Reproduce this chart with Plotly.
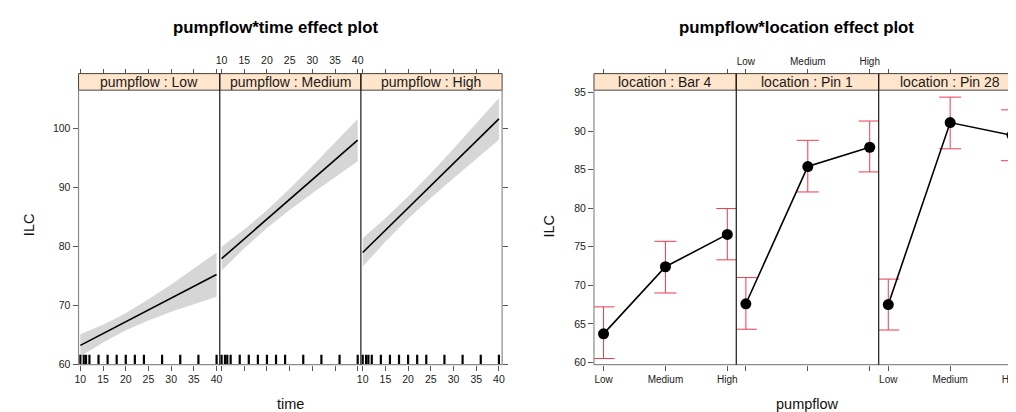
import plotly.graph_objects as go

# ---------------- data ----------------
times = [10, 15, 20, 25, 30, 35, 40]
pump_levels = ["Low", "Medium", "High"]

low_fit = [63.2, 65.2, 67.2, 69.2, 71.2, 73.2, 75.2]
low_lower = [61.3, 63.7, 65.75, 67.4, 68.9, 70.2, 71.45]
low_upper = [65.1, 66.7, 68.65, 71.0, 73.5, 76.2, 78.95]

med_fit = [77.9, 81.25, 84.6, 87.95, 91.3, 94.65, 98.0]
med_lower = [75.9, 79.65, 83.1, 86.15, 89.0, 91.75, 94.4]
med_upper = [79.9, 82.85, 86.1, 89.75, 93.6, 97.55, 101.6]

high_fit = [78.95, 82.75, 86.55, 90.3, 94.05, 97.85, 101.6]
high_lower = [76.55, 80.75, 84.65, 88.2, 91.55, 94.85, 98.05]
high_upper = [81.35, 84.75, 88.45, 92.4, 96.55, 100.85, 105.15]

rug_times = [10, 10.75, 11.25, 12, 14, 16, 18, 20, 22, 24, 28, 32, 36, 40]
time_ticks = [10, 15, 20, 25, 30, 35, 40]

locations = ["Bar 4", "Pin 1", "Pin 28"]
bar4_fit = [63.7, 72.4, 76.6]
bar4_lower = [60.5, 69.0, 73.3]
bar4_upper = [67.2, 75.7, 79.95]
pin1_fit = [67.6, 85.4, 87.9]
pin1_lower = [64.3, 82.1, 84.7]
pin1_upper = [71.0, 88.8, 91.3]
pin28_fit = [67.5, 91.1, 89.45]
pin28_lower = [64.2, 87.7, 86.15]
pin28_upper = [70.8, 94.4, 92.75]

ilc_ticks_left = [60, 70, 80, 90, 100]
ilc_ticks_right = [60, 65, 70, 75, 80, 85, 90, 95]

# ---------------- layout helpers ----------------
W, H = 1016, 412
FONT = "Liberation Sans, Arial, Helvetica, sans-serif"


def px(x):
    return x / W


def py(y):
    return 1 - y / H


PANEL_TOP, PANEL_BOT, STRIP_TOP = 80, 360.5, 63
left_edges = [67, 209.2, 351.3, 493.5]
right_edges = [586, 729.3, 872.7, 1016]
TIME_RANGE = [9.6, 40.7]
LEFT_Y = [59.93, 106.46]
CAT_RANGE = [-0.155, 2.145]
RIGHT_Y = [59.71, 95.29]

BAND = "rgb(214,214,214)"
ERR = "rgb(236,60,80)"
TICKC = "#555555"

fig = go.Figure()

time_panels = [
    ("Low", low_fit, low_lower, low_upper),
    ("Medium", med_fit, med_lower, med_upper),
    ("High", high_fit, high_lower, high_upper),
]
for i, (name, fit, lo, up) in enumerate(time_panels):
    xa = "x" if i == 0 else f"x{i + 1}"
    fig.add_trace(go.Scatter(x=times + times[::-1], y=up + lo[::-1], fill="toself",
                             fillcolor=BAND, line=dict(width=0), mode="lines",
                             xaxis=xa, yaxis="y", hoverinfo="skip", showlegend=False))
    fig.add_trace(go.Scatter(x=times, y=fit, mode="lines", line=dict(color="black", width=1.6),
                             xaxis=xa, yaxis="y", hoverinfo="skip", showlegend=False))

loc_panels = [
    (bar4_fit, bar4_lower, bar4_upper),
    (pin1_fit, pin1_lower, pin1_upper),
    (pin28_fit, pin28_lower, pin28_upper),
]
cat_x = list(range(len(pump_levels)))
for i, (fit, lo, up) in enumerate(loc_panels):
    xa = f"x{i + 4}"
    fig.add_trace(go.Scatter(
        x=cat_x, y=fit, mode="lines+markers",
        line=dict(color="black", width=1.6),
        marker=dict(color="black", size=11),
        error_y=dict(type="data", symmetric=False,
                     array=[u - f for u, f in zip(up, fit)],
                     arrayminus=[f - l for f, l in zip(fit, lo)],
                     color=ERR, thickness=1, width=11),
        xaxis=xa, yaxis="y2", hoverinfo="skip", showlegend=False))

# dummy traces so the overlay axes get drawn
for k in range(7, 13):
    fig.add_trace(go.Scatter(x=[], y=[], xaxis=f"x{k}", yaxis="y" if k < 10 else "y2",
                             showlegend=False, hoverinfo="skip"))
fig.add_trace(go.Scatter(x=[], y=[], xaxis="x", yaxis="y3", showlegend=False, hoverinfo="skip"))

common = dict(showgrid=False, zeroline=False, showline=False, ticks="outside", ticklen=5,
              tickwidth=1, tickcolor=TICKC, tickfont=dict(family=FONT, size=10.5, color="#222"),
              fixedrange=True)
catfont = dict(family=FONT, size=10, color="#222")

layout = dict(width=W, height=H, margin=dict(l=0, r=0, t=0, b=0),
              paper_bgcolor="white", plot_bgcolor="white", showlegend=False,
              font=dict(family=FONT, color="#222"))

ydom = [py(PANEL_BOT), py(PANEL_TOP)]
layout["yaxis"] = dict(common, domain=ydom, range=LEFT_Y, anchor="x", tickvals=ilc_ticks_left)
layout["yaxis2"] = dict(common, domain=ydom, range=RIGHT_Y, anchor="x4", tickvals=ilc_ticks_right)
layout["yaxis3"] = dict(common, overlaying="y", side="right", anchor="free",
                        position=px(left_edges[3]), range=LEFT_Y, tickvals=ilc_ticks_left,
                        showticklabels=False)

for i in range(3):
    dom = [px(left_edges[i]), px(left_edges[i + 1])]
    key = "xaxis" if i == 0 else f"xaxis{i + 1}"
    layout[key] = dict(common, domain=dom, range=TIME_RANGE, anchor="y", tickvals=time_ticks,
                       showticklabels=(i != 1))
    layout[f"xaxis{i + 7}"] = dict(common, overlaying=("x" if i == 0 else f"x{i + 1}"),
                                   side="top", anchor="free", position=py(STRIP_TOP),
                                   range=TIME_RANGE, tickvals=time_ticks,
                                   showticklabels=(i == 1))
for i in range(3):
    dom = [px(right_edges[i]), px(right_edges[i + 1])]
    layout[f"xaxis{i + 4}"] = dict(common, domain=dom, range=CAT_RANGE, anchor="y2",
                                   tickvals=cat_x, ticktext=pump_levels,
                                   showticklabels=(i != 1), tickfont=catfont)
    layout[f"xaxis{i + 10}"] = dict(common, overlaying=f"x{i + 4}", side="top", anchor="free",
                                    position=py(STRIP_TOP), range=CAT_RANGE,
                                    tickvals=cat_x, ticktext=pump_levels,
                                    showticklabels=(i == 1), tickfont=catfont)

shapes = []
annotations = []

# rug marks
for i in range(3):
    xr = "x" if i == 0 else f"x{i + 1}"
    for t in rug_times:
        shapes.append(dict(type="line", xref=xr, yref="y domain", x0=t, x1=t, y0=0.0, y1=0.036,
                           line=dict(color="black", width=2.2)))


def panel_frame(edges, strip_labels):
    # strips
    for i in range(3):
        shapes.append(dict(type="rect", xref="paper", yref="paper",
                           x0=px(edges[i]), x1=px(edges[i + 1]), y0=py(PANEL_TOP), y1=py(STRIP_TOP),
                           fillcolor="#ffe5cc", line=dict(color="#4a4038", width=1), layer="above"))
        annotations.append(dict(xref="paper", yref="paper",
                                x=px((edges[i] + edges[i + 1]) / 2),
                                y=py((PANEL_TOP + STRIP_TOP) / 2), text=strip_labels[i],
                                showarrow=False, xanchor="center", yanchor="middle",
                                font=dict(family=FONT, size=14, color="#1a1a1a")))
    # outer frame
    shapes.append(dict(type="rect", xref="paper", yref="paper",
                       x0=px(edges[0]), x1=px(edges[3]), y0=py(PANEL_BOT), y1=py(PANEL_TOP),
                       line=dict(color="#8a8a8a", width=1.2), layer="above"))
    for e in edges[1:3]:
        shapes.append(dict(type="line", xref="paper", yref="paper", x0=px(e), x1=px(e),
                           y0=py(PANEL_BOT), y1=py(STRIP_TOP),
                           line=dict(color="#1a1a1a", width=1.2), layer="above"))


panel_frame(left_edges, [f"pumpflow : {p}" for p in pump_levels])
panel_frame(right_edges, [f"location : {l}" for l in locations])

titles = [("pumpflow*time effect plot", 266, 16), ("pumpflow*location effect plot", 790, 16)]
for txt, x, y in titles:
    annotations.append(dict(xref="paper", yref="paper", x=px(x), y=py(y), text=f"<b>{txt}</b>",
                            showarrow=False, xanchor="center", yanchor="middle",
                            font=dict(family=FONT, size=16.8, color="black")))

axis_titles = [("time", 280, 401, 0), ("pumpflow", 801, 401, 0),
               ("ILC", 17, 217, -90), ("ILC", 541, 219, -90)]
for txt, x, y, ang in axis_titles:
    annotations.append(dict(xref="paper", yref="paper", x=px(x), y=py(y), text=txt,
                            showarrow=False, xanchor="center", yanchor="middle", textangle=ang,
                            font=dict(family=FONT, size=14.5, color="#111")))

layout["shapes"] = shapes
layout["annotations"] = annotations
fig.update_layout(**layout)
fig.write_html("out.html")
